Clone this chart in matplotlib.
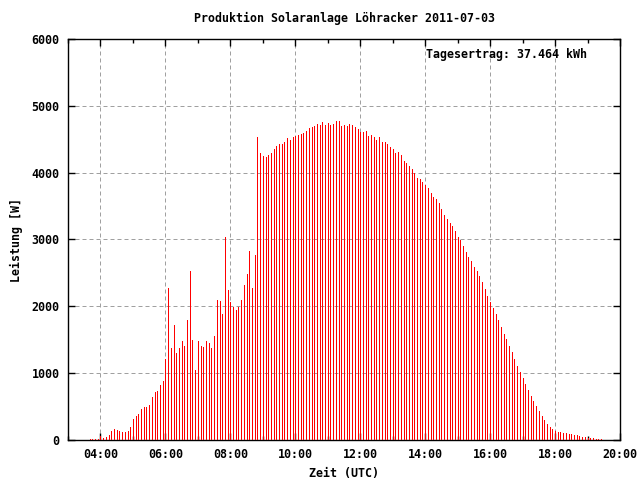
import matplotlib
matplotlib.use("Agg")
import matplotlib.pyplot as plt
from matplotlib.ticker import MultipleLocator, FuncFormatter

title = "Produktion Solaranlage Löhracker 2011-07-03"
xlabel = "Zeit (UTC)"
ylabel = "Leistung [W]"
annotation = "Tagesertrag: 37.464 kWh"

start_hour = 3 + 40 / 60.0   # first sample 03:40
step_min = 5                 # 5-minute samples

power_w = [
    15, 15, 15, 15, 60, 30, 45, 75, 135, 165, 150, 135, 120, 120, 135, 195,
    315, 360, 390, 465, 495, 495, 525, 645, 720, 735, 825, 885,
    1215, 2275, 1380, 1720, 1300, 1380, 1480, 1405, 1795, 2530, 1495, 1050,
    1480, 1405, 1390, 1480, 1450, 1375, 1555, 2095, 2080, 1885, 3030, 2245,
    2065, 1990, 1945, 1990, 2095, 2320, 2485, 2830, 2275, 2770, 4535, 4295,
    4250, 4235, 4265, 4295, 4355, 4400, 4430, 4430, 4460, 4520, 4490, 4535,
    4550, 4565, 4580, 4595, 4625, 4670, 4685, 4700, 4730, 4715, 4760, 4715,
    4745, 4715, 4730, 4775, 4775, 4700, 4715, 4700, 4730, 4715, 4685, 4655,
    4610, 4610, 4625, 4550, 4565, 4535, 4490, 4535, 4460, 4460, 4430, 4385,
    4355, 4295, 4310, 4265, 4175, 4145, 4100, 4055, 3995, 3920, 3905, 3860,
    3815, 3770, 3695, 3635, 3605, 3545, 3455, 3365, 3305, 3245, 3200, 3125,
    3035, 2990, 2900, 2815, 2740, 2680, 2590, 2530, 2455, 2365, 2260, 2155,
    2065, 1975, 1885, 1795, 1690, 1585, 1510, 1405, 1315, 1210, 1105, 1015,
    930, 840, 750, 660, 585, 510, 435, 360, 300, 240, 195, 165,
    135, 120, 120, 105, 105, 90, 90, 75, 75, 60, 45, 45,
    30, 30, 30, 15, 15, 15,
]

times_h = [start_hour + i * step_min / 60.0 for i in range(len(power_w))]

xticks_h = [4, 6, 8, 10, 12, 14, 16, 18, 20]
yticks = [0, 1000, 2000, 3000, 4000, 5000, 6000]

font = {"family": "DejaVu Sans Mono", "weight": "bold", "size": 8.4}

fig = plt.figure(figsize=(6.4, 4.8), dpi=100)
ax = fig.add_axes([68 / 640, 40 / 480, 552 / 640, 401 / 480])

ax.vlines(times_h, 0, power_w, colors="#ff0000", linewidth=0.72,
          antialiased=False, zorder=3)

ax.set_xlim(3, 20)
ax.set_ylim(0, 6000)
ax.set_xticks(xticks_h)
ax.xaxis.set_minor_locator(MultipleLocator(1))
ax.set_yticks(yticks)
ax.xaxis.set_major_formatter(FuncFormatter(lambda v, p: "%02d:00" % int(round(v))))

ax.grid(True, which="major", color="#a0a0a0", linestyle=(0, (4, 3)),
        linewidth=0.72, zorder=1)

ax.tick_params(which="both", direction="in", top=True, right=True,
               color="black")
ax.tick_params(which="major", length=5, width=1, pad=6)
ax.tick_params(which="minor", length=3, width=1)
for lbl in ax.get_xticklabels() + ax.get_yticklabels():
    lbl.set_fontfamily(font["family"])
    lbl.set_fontweight(font["weight"])
    lbl.set_fontsize(font["size"])

for sp in ax.spines.values():
    sp.set_linewidth(1.0)
    sp.set_color("black")

ax.set_title(title, fontdict=font, pad=12)
ax.set_xlabel(xlabel, fontdict=font, labelpad=4)
ax.set_ylabel(ylabel, fontdict=font, labelpad=6)

ax.text(0.940, 0.978, annotation, transform=ax.transAxes, ha="right",
        va="top", fontdict=font, zorder=4)

fig.savefig("out.png", dpi=100)
